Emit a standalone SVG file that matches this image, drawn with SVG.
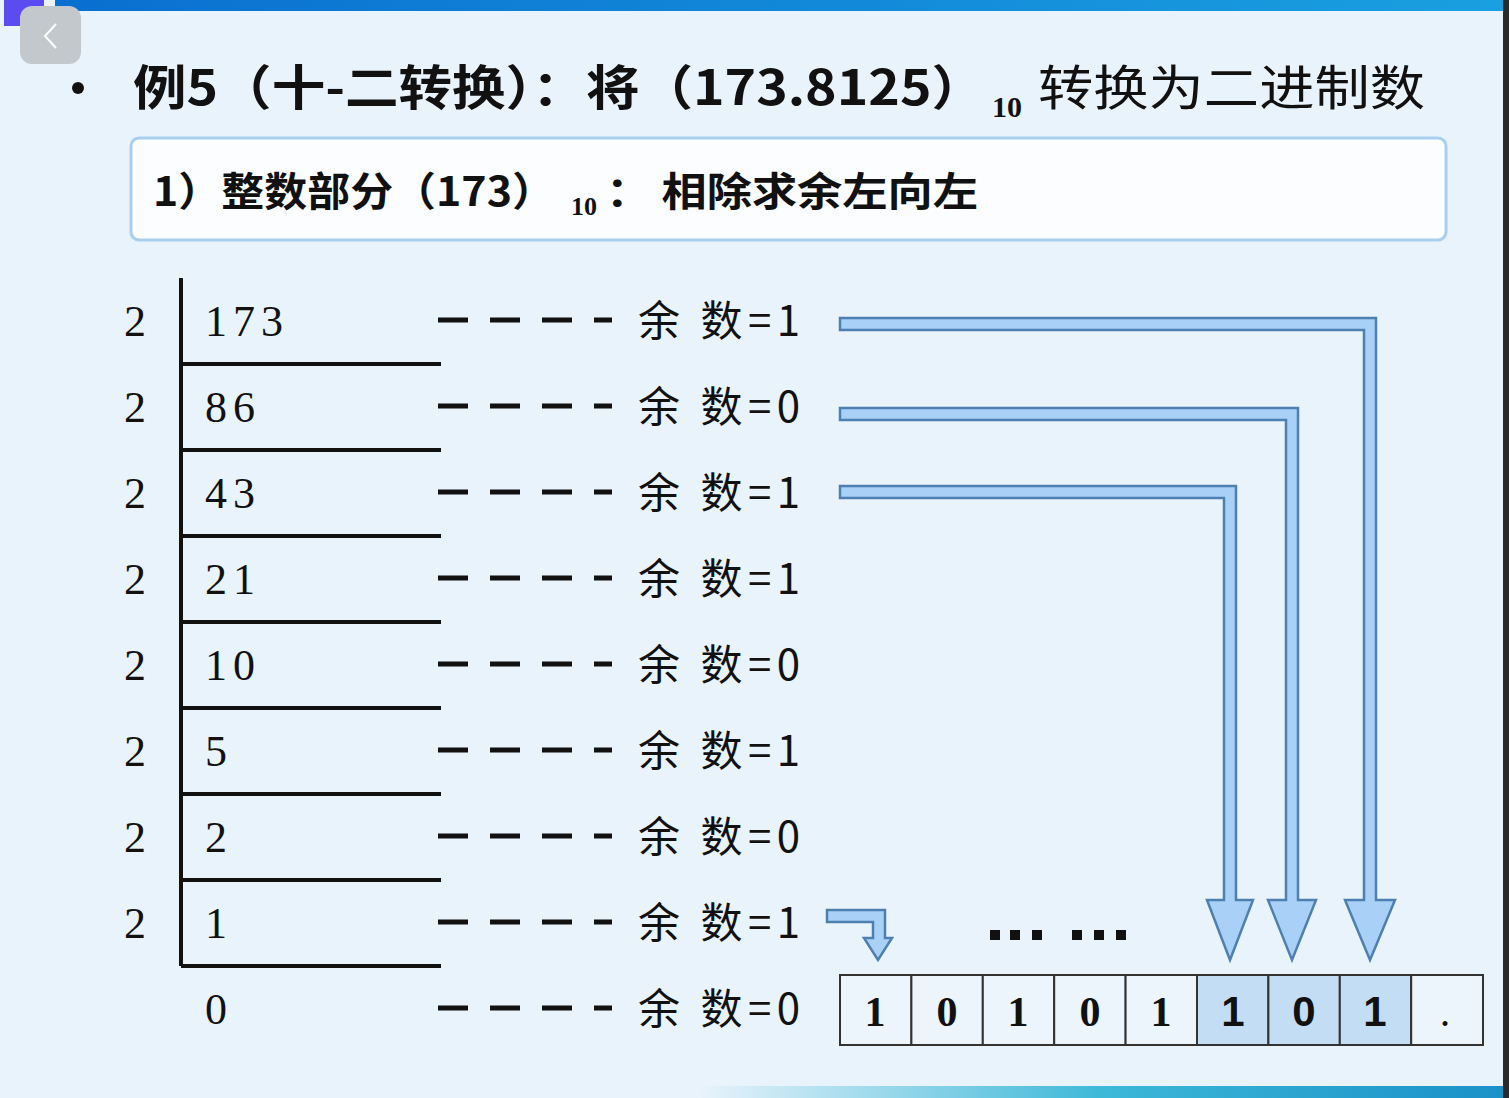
<svg xmlns="http://www.w3.org/2000/svg" width="1509" height="1098" viewBox="0 0 1509 1098">
<style>
.t{font-family:"Liberation Serif","Noto Sans CJK SC",serif;fill:#111}
.c{font-family:"Noto Sans CJK SC","Liberation Serif",sans-serif;fill:#111}
.ln{stroke:#111;stroke-width:4;fill:none}
.ds{stroke:#111;stroke-width:5;stroke-dasharray:30,22;fill:none}
.ar{fill:#a9d1f7;stroke:#4d7fb0;stroke-width:2.5}
.cell{fill:#edf5fc;stroke:#333;stroke-width:2}
.hi{fill:#c3ddf5;stroke:#333;stroke-width:2}
</style>
<defs>
<linearGradient id="bt" x1="0" x2="1"><stop offset="0" stop-color="#0a6fd0"/><stop offset="1" stop-color="#1aa0e0"/></linearGradient>
<linearGradient id="bb" x1="0" x2="1"><stop offset="0" stop-color="#e8f3fb"/><stop offset="0.5" stop-color="#3cb8d8"/><stop offset="1" stop-color="#1a90c8"/></linearGradient>
</defs>
<rect width="1509" height="1098" fill="#e9f3fb"/>
<rect x="55" y="0" width="1454" height="11" fill="url(#bt)"/>
<rect x="4" y="0" width="40" height="26" fill="#5a4cf0"/>
<rect x="20" y="6" width="61" height="58" rx="12" fill="#c3c8cc"/>
<path d="M56,24 L45,36 L56,48" stroke="#fff" stroke-width="2" fill="none"/>
<rect x="700" y="1086" width="809" height="12" fill="url(#bb)"/>
<rect x="1503" y="0" width="6" height="1098" fill="#2a2a2a"/>

<g id="title">
<circle cx="78" cy="88" r="6" fill="#111"/>
<text class="c" x="133" y="105" font-size="48" font-weight="bold" textLength="852" lengthAdjust="spacingAndGlyphs">例5（十-二转换）：将（173.8125）</text>
<text class="t" x="992" y="117" font-size="30" font-weight="bold">10</text>
<text class="c" x="1038" y="105" font-size="48" textLength="387" lengthAdjust="spacingAndGlyphs">转换为二进制数</text>
</g>
<g id="subtitle">
<rect x="131" y="138" width="1315" height="102" rx="8" fill="#fbfdff" stroke="#a8cff0" stroke-width="3"/>
<text class="c" x="153" y="206" font-size="40" font-weight="bold" textLength="402" lengthAdjust="spacingAndGlyphs">1）整数部分（173）</text>
<text class="t" x="571" y="215" font-size="26" font-weight="bold">10</text>
<text class="c" x="606" y="206" font-size="40" font-weight="bold" textLength="372" lengthAdjust="spacingAndGlyphs">：  相除求余左向左</text>
</g>

<g id="division">
<path class="ln" d="M181,278 V966 M181,364 H441 M181,450 H441 M181,536 H441 M181,622 H441 M181,708 H441 M181,794 H441 M181,880 H441 M181,966 H441"/>
<g class="t" font-size="44">
<text x="124" y="336">2</text><text x="124" y="422">2</text><text x="124" y="508">2</text><text x="124" y="594">2</text>
<text x="124" y="680">2</text><text x="124" y="766">2</text><text x="124" y="852">2</text><text x="124" y="938">2</text>
<text x="205" y="336" letter-spacing="6">173</text><text x="205" y="422" letter-spacing="6">86</text>
<text x="205" y="508" letter-spacing="6">43</text><text x="205" y="594" letter-spacing="6">21</text>
<text x="205" y="680" letter-spacing="6">10</text><text x="205" y="766">5</text>
<text x="205" y="852">2</text><text x="205" y="938">1</text><text x="205" y="1024">0</text>
</g>
</g>

<g id="remainders">
<path class="ds" d="M438,320 H612 M438,406 H612 M438,492 H612 M438,578 H612 M438,664 H612 M438,750 H612 M438,836 H612 M438,922 H612 M438,1008 H612"/>
<g class="c" font-size="42">
<text x="638" y="336" textLength="162">余 数=1</text><text x="638" y="422" textLength="162">余 数=0</text><text x="638" y="508" textLength="162">余 数=1</text>
<text x="638" y="594" textLength="162">余 数=1</text><text x="638" y="680" textLength="162">余 数=0</text><text x="638" y="766" textLength="162">余 数=1</text>
<text x="638" y="852" textLength="162">余 数=0</text><text x="638" y="938" textLength="162">余 数=1</text><text x="638" y="1024" textLength="162">余 数=0</text>
</g>
</g>

<g id="connectors">
<path class="ar" d="M840,318 H1376 V900 H1395 L1370,960 L1345,900 H1364 V330 H840 Z"/>
<path class="ar" d="M840,408 H1298 V900 H1316 L1292,960 L1268,900 H1286 V420 H840 Z"/>
<path class="ar" d="M840,486 H1236 V900 H1253 L1230,960 L1207,900 H1224 V498 H840 Z"/>
<path class="ar" d="M827,910 H885 V938 H892 L878,960 L864,938 H873 V922 H827 Z"/>
</g>

<g id="dots" fill="#111">
<rect x="990" y="930" width="10" height="10"/><rect x="1010" y="930" width="10" height="10"/><rect x="1032" y="930" width="10" height="10"/>
<rect x="1072" y="930" width="10" height="10"/><rect x="1094" y="930" width="10" height="10"/><rect x="1116" y="930" width="10" height="10"/>
</g>

<g id="result">
<rect class="cell" x="840" y="975" width="71.4" height="70"/>
<rect class="cell" x="911.4" y="975" width="71.4" height="70"/>
<rect class="cell" x="982.8" y="975" width="71.4" height="70"/>
<rect class="cell" x="1054.2" y="975" width="71.4" height="70"/>
<rect class="cell" x="1125.6" y="975" width="71.4" height="70"/>
<rect class="hi" x="1197" y="975" width="71.4" height="70"/>
<rect class="hi" x="1268.4" y="975" width="71.4" height="70"/>
<rect class="hi" x="1339.8" y="975" width="71.4" height="70"/>
<rect class="cell" x="1411.2" y="975" width="71.8" height="70"/>
<g class="t" font-size="42" font-weight="bold" text-anchor="middle">
<text x="875" y="1026">1</text><text x="947" y="1026">0</text><text x="1018" y="1026">1</text><text x="1090" y="1026">0</text><text x="1161" y="1026">1</text>
</g>
<g font-family="Liberation Sans,sans-serif" font-size="42" font-weight="bold" text-anchor="middle" fill="#111">
<text x="1233" y="1026">1</text><text x="1304" y="1026">0</text><text x="1375" y="1026">1</text>
</g>
<text class="t" x="1445" y="1026" font-size="42" text-anchor="middle">.</text>
</g>
</svg>
